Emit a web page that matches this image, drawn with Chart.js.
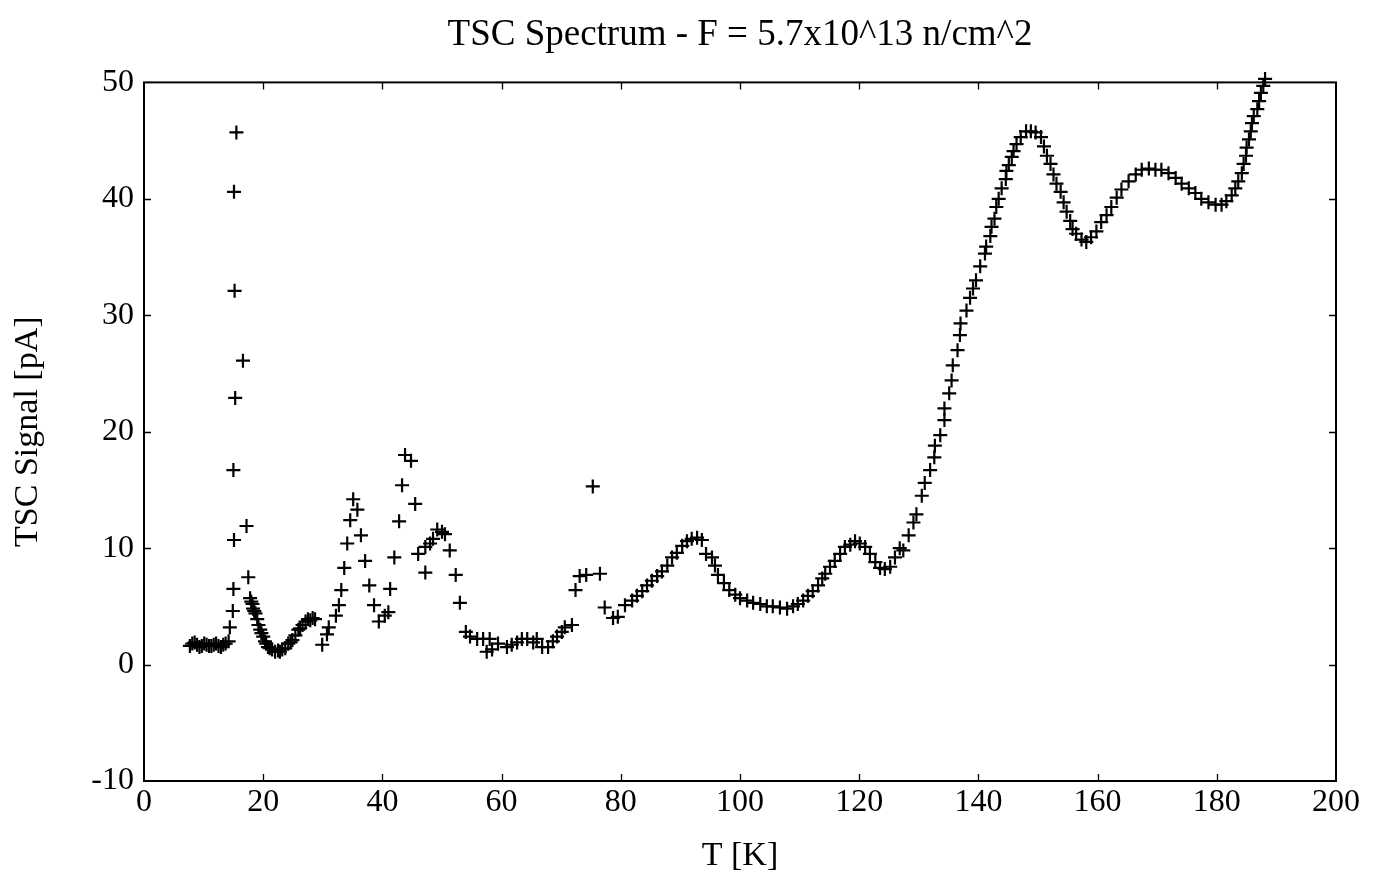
<!DOCTYPE html>
<html>
<head>
<meta charset="utf-8">
<style>
  html, body { margin: 0; padding: 0; background: #ffffff; }
  canvas { display: block; }
</style>
<script src="https://cdn.jsdelivr.net/npm/chart.js@4/dist/chart.umd.min.js"></script>
</head>
<body>
<canvas id="c" width="1377" height="886"></canvas>
<script>
// Temperature [K] of each measured point
const tempK = [
  7.7, 8.1, 8.5, 8.9, 9.3, 9.7, 10.1, 10.5, 10.9, 11.3, 11.7, 12.1, 12.5, 12.9, 13.3, 13.7,
  14.2, 14.4, 14.9, 15.0, 15.1, 15.0, 15.3, 15.2, 15.1, 15.5, 16.6, 17.2, 17.5,
  17.8, 18.0, 18.2, 18.3, 18.5, 18.7, 19.0, 19.2, 19.5, 19.7, 20.0, 20.3, 20.5, 20.8, 21.1,
  21.5, 22.0, 22.5, 22.8, 23.2, 23.7, 24.2, 24.6, 24.9, 25.4, 25.9, 26.2, 26.6, 27.1, 27.5,
  27.9, 28.3, 28.7,
  29.9, 30.7, 31.0, 32.2, 32.7, 33.1, 33.6, 34.1, 34.6, 35.1, 35.8, 36.4, 37.1, 37.8, 38.6,
  39.4, 40.4, 41.0, 41.3, 42.0, 42.8, 43.3, 43.8, 44.8, 45.5, 46.0, 47.2, 47.2, 48.0, 48.5,
  49.2, 50.0, 50.5, 51.3, 52.3, 53.0, 54.0, 54.7, 55.9, 56.9, 57.5, 58.0, 58.4, 59.4, 60.9,
  61.7, 62.6, 63.4, 64.3, 65.3, 65.9, 66.8, 67.8, 68.6, 69.3, 70.1, 70.6, 71.8, 72.4, 73.1,
  74.2, 75.3, 76.5, 77.3, 78.7, 79.5,
  80.7, 81.9, 82.7, 83.6, 84.4, 85.2, 86.1, 86.9, 87.8, 88.6, 89.4, 90.3, 91.1, 91.9, 92.8,
  93.6, 94.3, 95.3, 95.8, 96.3, 97.3, 98.2, 99.2, 100.0, 101.2, 102.2, 103.4, 104.5, 105.5,
  106.7, 107.9, 108.9, 109.7, 110.6, 111.4, 112.2, 113.1, 113.8, 114.3, 115.1, 115.9, 116.8,
  117.6, 118.5, 119.3, 120.1, 121.0, 121.8, 122.7, 123.5, 124.3, 125.2, 126.0, 126.8,
  127.4, 128.3, 129.1, 129.6, 130.5, 131.0, 131.9, 132.6, 132.7, 133.6, 134.3, 134.3, 135.1,
  135.5, 135.7, 136.5, 136.9, 137.0, 138.0, 138.6, 139.1, 139.6, 140.3, 141.1, 141.3, 142.0,
  142.2, 142.7, 143.0, 143.4, 143.9, 144.6, 144.7, 145.1, 145.6, 145.9, 146.4, 147.1, 148.0,
  148.8, 149.6, 150.5, 151.0, 151.5, 152.1, 152.6, 153.1, 153.8, 154.3, 154.8, 155.4, 155.8,
  156.4, 157.3, 158.1, 158.9, 159.8, 160.6, 161.5, 162.3, 163.2, 164.0, 165.2, 166.4, 167.4,
  168.6, 169.7, 170.7, 171.9, 173.1, 174.1, 175.3, 176.4, 177.4, 178.6, 179.8, 180.8, 181.6,
  182.5, 183.1, 183.6, 184.2, 184.5, 184.9, 185.0, 185.4, 185.7, 185.9, 186.2, 186.8, 187.1,
  187.4, 187.8, 188.1
];

// TSC signal [pA] of each measured point
const signalPA = [
  1.6, 1.8, 1.9, 1.7, 1.5, 1.6, 1.8, 1.7, 1.6, 1.6, 1.7, 1.8, 1.6, 1.5, 1.7, 1.8,
  2.0, 3.2, 4.6, 6.5, 10.7, 16.7, 22.9, 32.1, 40.6, 45.7, 26.1, 11.9, 7.5,
  5.7, 5.4, 5.2, 4.8, 4.6, 4.4, 3.9, 3.4, 3.0, 2.7, 2.4, 2.0, 1.8, 1.5, 1.4,
  1.3, 1.1, 1.2, 1.1, 1.3, 1.4, 1.8, 1.9, 2.1, 2.5, 3.0, 3.1, 3.4, 3.7, 3.9,
  3.8, 4.0, 3.9,
  1.7, 2.6, 3.2, 4.2, 5.1, 6.4, 8.3, 10.4, 12.4, 14.2, 13.3, 11.1, 8.9, 6.8, 5.1,
  3.7, 4.2, 4.5, 6.5, 9.2, 12.3, 15.4, 18.0, 17.5, 13.8, 9.5, 7.9, 10.1, 10.4, 10.8,
  11.6, 11.4, 11.2, 9.8, 7.7, 5.3, 2.8, 2.4, 2.2, 2.2, 1.1, 2.2, 1.3, 1.8, 1.5,
  1.7, 1.9, 2.2, 2.2, 1.9, 2.2, 1.5, 1.5, 2.0, 2.4, 2.8, 3.2, 3.4, 6.4, 7.6,
  7.7, 15.3, 7.8, 4.9, 4.0, 4.1,
  5.1, 5.5, 5.9, 6.3, 6.8, 7.2, 7.6, 8.0, 8.5, 9.2, 9.6, 10.2, 10.6, 10.8, 10.9,
  10.7, 9.5, 9.2, 8.5, 7.7, 7.0, 6.4, 6.0, 5.7, 5.5, 5.3, 5.2, 5.0, 5.0,
  4.9, 4.8, 5.0, 5.2, 5.5, 5.9, 6.3, 6.8, 7.4, 7.8, 8.4, 8.9, 9.5,
  10.1, 10.3, 10.6, 10.4, 10.1, 9.5, 8.8, 8.3, 8.2, 8.4, 9.2, 10.0,
  9.8, 11.1, 12.2, 12.9, 14.5, 15.6, 16.7, 17.8, 18.8, 19.7, 21.0, 22.0, 23.3,
  24.4, 25.7, 27.0, 28.3, 29.3, 30.4, 31.5, 32.3, 33.0, 34.2, 35.3, 35.9, 36.8,
  37.6, 38.3, 39.3, 40.0, 40.9, 41.7, 42.4, 42.9, 43.6, 44.1, 44.7, 45.3, 45.8,
  45.8, 45.7, 45.3, 44.5, 43.7, 43.0, 42.1, 41.3, 40.6, 39.7, 38.9, 38.1, 37.4,
  37.0, 36.5, 36.3, 36.7, 37.2, 38.0, 38.6, 39.3, 40.1, 40.8, 41.5, 42.1, 42.5,
  42.6, 42.5, 42.5, 42.2, 41.8, 41.3, 40.9, 40.5, 40.0, 39.7, 39.5, 39.5, 39.8,
  40.3, 40.9, 41.5, 42.2, 43.0, 43.7, 44.4, 45.1, 45.8, 46.5, 47.1, 47.7, 48.4,
  49.1, 49.7, 50.3
];

// Axis settings
const xTicks = [0, 20, 40, 60, 80, 100, 120, 140, 160, 180, 200];
const yTicks = [-10, 0, 10, 20, 30, 40, 50];

const points = tempK.map((t, i) => ({ x: t, y: signalPA[i] }));

const FONT = "'Liberation Serif', 'Times New Roman', serif";

const framePlugin = {
  id: 'frameTicks',
  afterDatasetsDraw(chart) {
    const { ctx, chartArea: a, scales } = chart;
    const xs = scales.x, ys = scales.y;
    ctx.save();
    ctx.strokeStyle = '#000';
    ctx.lineWidth = 1.3;
    const len = 7;
    ctx.beginPath();
    xs.ticks.forEach(t => {
      const p = Math.round(xs.getPixelForValue(t.value)) + 0.5;
      if (p <= a.left + 1 || p >= a.right - 1) return;
      ctx.moveTo(p, a.bottom); ctx.lineTo(p, a.bottom - len);
      ctx.moveTo(p, a.top); ctx.lineTo(p, a.top + len);
    });
    ys.ticks.forEach(t => {
      const p = Math.round(ys.getPixelForValue(t.value)) + 0.5;
      if (p <= a.top + 1 || p >= a.bottom - 1) return;
      ctx.moveTo(a.left, p); ctx.lineTo(a.left + len, p);
      ctx.moveTo(a.right, p); ctx.lineTo(a.right - len, p);
    });
    ctx.stroke();
    ctx.lineWidth = 2;
    ctx.strokeRect(a.left, a.top, a.right - a.left, a.bottom - a.top);
    ctx.restore();
  }
};

new Chart(document.getElementById('c'), {
  type: 'scatter',
  data: {
    datasets: [{
      data: points,
      pointStyle: 'cross',
      pointRadius: 7,
      pointHoverRadius: 7,
      pointBorderWidth: 2.2,
      borderColor: '#000',
      backgroundColor: '#000',
      showLine: false,
      clip: false
    }]
  },
  options: {
    responsive: false,
    animation: false,
    devicePixelRatio: 1,
    layout: { padding: { left: 0, right: 41, top: 0, bottom: 0 } },
    plugins: {
      legend: { display: false },
      tooltip: { enabled: false },
      title: {
        display: true,
        fullSize: false,
        text: 'TSC Spectrum - F = 5.7x10^13 n/cm^2',
        color: '#000',
        font: { family: FONT, size: 37, weight: 'normal' },
        padding: { top: 13, bottom: 25 }
      }
    },
    scales: {
      x: {
        type: 'linear',
        min: 0, max: 200,
        afterBuildTicks(s) { s.ticks = xTicks.map(v => ({ value: v })); },
        afterFit(s) { s.height = 105; },
        ticks: { color: '#000', font: { family: FONT, size: 32 }, padding: 2, maxRotation: 0 },
        grid: { display: false, drawTicks: false },
        border: { display: false },
        title: {
          display: true, text: 'T [K]', color: '#000',
          font: { family: FONT, size: 34 }, padding: { top: 0, bottom: 10 }
        }
      },
      y: {
        type: 'linear',
        min: -10, max: 50,
        afterBuildTicks(s) { s.ticks = yTicks.map(v => ({ value: v })); },
        afterFit(s) { s.width = 144; },
        ticks: { color: '#000', font: { family: FONT, size: 32 }, padding: 10 },
        grid: { display: false, drawTicks: false },
        border: { display: false },
        title: {
          display: true, text: 'TSC Signal [pA]', color: '#000',
          font: { family: FONT, size: 34 }, padding: { top: 8, bottom: 0 }
        }
      }
    }
  },
  plugins: [framePlugin, {
    id: 'whiteBg',
    beforeDraw(chart) {
      const c = chart.ctx;
      c.save(); c.fillStyle = '#fff'; c.fillRect(0, 0, chart.width, chart.height); c.restore();
    }
  }]
});
</script>
</body>
</html>
